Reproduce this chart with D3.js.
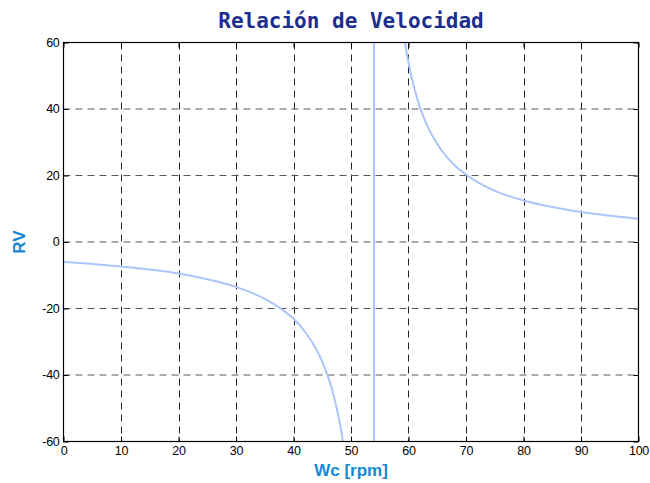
<!DOCTYPE html>
<html><head><meta charset="utf-8">
<script src="https://cdn.jsdelivr.net/npm/d3@7"></script>
<style>html,body{margin:0;padding:0;background:#fff;}</style>
</head><body>
<svg id="chart" width="650" height="483"></svg>
<script>
const xTicks = [0,10,20,30,40,50,60,70,80,90,100];
const yTicks = [-60,-40,-20,0,20,40,60];
const wc = [0,5,10,15,20,25,30,35,38,40,42,44,45,46,47,48,48.5,49,53.9,54.1,59,59.5,60,61,62,63,64,66,68,70,72,75,80,85,90,95,100];
const rv = [-6.0,-6.6,-7.4,-8.3,-9.5,-11.2,-13.5,-17.1,-20.3,-23.1,-27.0,-32.4,-36.0,-40.5,-46.3,-54.0,-58.9,-64.8,-3240,3240,64.8,58.9,54.0,46.3,40.5,36.0,32.4,27.0,23.1,20.3,18.0,15.4,12.5,10.5,9.0,7.9,7.0];

const svg = d3.select('#chart');
const L = 63.5, R = 638.5, T = 42.5, B = 441.5;
const x = d3.scaleLinear().domain([0,100]).range([L,R]);
const y = d3.scaleLinear().domain([-60,60]).range([B,T]);

svg.append('rect').attr('x',0).attr('y',0).attr('width',650).attr('height',483).attr('fill','#fff');

// grid
const g = svg.append('g');
g.selectAll('.vg').data(xTicks.slice(1,-1)).enter().append('line')
  .attr('x1',d=>Math.round(x(d))+0.5).attr('x2',d=>Math.round(x(d))+0.5).attr('y1',T).attr('y2',B)
  .attr('stroke','#222').attr('stroke-width',1).attr('stroke-dasharray','7,5');
g.selectAll('.hg').data(yTicks.slice(1,-1)).enter().append('line')
  .attr('y1',d=>y(d)).attr('y2',d=>y(d)).attr('x1',L).attr('x2',R)
  .attr('stroke','#5a5a5a').attr('stroke-width',1.2).attr('stroke-dasharray','7,5');

// curve
svg.append('clipPath').attr('id','clip').append('rect').attr('x',L).attr('y',T).attr('width',R-L).attr('height',B-T);
const pts = wc.map((v,i)=>[v,rv[i]]);
svg.append('path').datum(pts).attr('clip-path','url(#clip)')
  .attr('d', d3.line().x(d=>x(d[0])).y(d=>y(d[1])).curve(d3.curveMonotoneX))
  .attr('fill','none').attr('stroke','#abc5fb').attr('stroke-width',2);

// box
svg.append('rect').attr('x',L).attr('y',T).attr('width',R-L).attr('height',B-T)
  .attr('fill','none').attr('stroke','#000').attr('stroke-width',1.2);

// axes
const fmt = d => String(d);
const fs = '12.5px "Liberation Sans", Arial, sans-serif';
const xb = svg.append('g').attr('transform',`translate(0,${B})`)
  .call(d3.axisBottom(x).tickValues(xTicks).tickSize(-5).tickPadding(5).tickFormat(fmt));
const xt = svg.append('g').attr('transform',`translate(0,${T})`)
  .call(d3.axisTop(x).tickValues(xTicks).tickSize(-5).tickFormat(''));
const yl = svg.append('g').attr('transform',`translate(${L},0)`)
  .call(d3.axisLeft(y).tickValues(yTicks).tickSize(-5).tickPadding(4).tickFormat(fmt));
const yr = svg.append('g').attr('transform',`translate(${R},0)`)
  .call(d3.axisRight(y).tickValues(yTicks).tickSize(-5).tickFormat(''));
[xb,xt,yl,yr].forEach(a=>{
  a.select('.domain').remove();
  a.selectAll('line').attr('stroke','#000');
  a.selectAll('text').style('font',fs).attr('fill','#000').style('letter-spacing','-0.3px');
});
yl.selectAll('text').attr('dy','0.3em');

// labels
svg.append('text').attr('x',(L+R)/2).attr('y',28).attr('text-anchor','middle')
  .style('font','bold 21px "DejaVu Sans Mono", monospace').attr('fill','#1c2f8c').text('Relación de Velocidad');
svg.append('text').attr('x',(L+R)/2).attr('y',476).attr('text-anchor','middle')
  .style('font','bold 17px "Liberation Sans", Arial, sans-serif').attr('fill','#1589d2').text('Wc [rpm]');
svg.append('text').attr('transform',`translate(25,${(T+B)/2}) rotate(-90)`).attr('text-anchor','middle')
  .style('font','bold 17px "Liberation Sans", Arial, sans-serif').attr('fill','#1589d2').text('RV');
</script>
</body></html>
